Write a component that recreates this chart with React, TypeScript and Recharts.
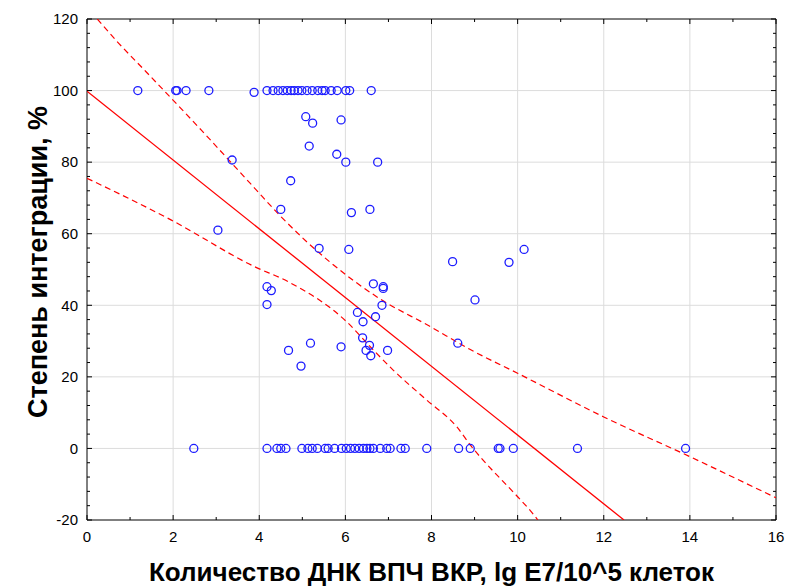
import React from 'react';
import {
  ComposedChart,
  Scatter,
  Line,
  XAxis,
  YAxis,
  CartesianGrid,
  ReferenceArea,
} from 'recharts';

// x для точек со степенью интеграции 100%
const row100X = [
  1.18, 2.06, 2.09, 2.3, 2.83, 4.18, 4.32, 4.44, 4.55, 4.65, 4.74, 4.81, 4.9,
  4.99, 5.11, 5.23, 5.36, 5.46, 5.53, 5.67, 5.81, 6.01, 6.1, 6.6,
];

// x для точек с нулевой интеграцией
const row0X = [
  2.48, 4.18, 4.41, 4.5, 4.62, 4.99, 5.13, 5.23, 5.35, 5.53, 5.6, 5.75, 5.91,
  6.02, 6.12, 6.22, 6.32, 6.42, 6.5, 6.57, 6.65, 6.81, 6.96, 7.04, 7.29, 7.39,
  7.89, 8.63, 8.9, 9.55, 9.59, 9.9, 11.39, 13.9,
];

// остальные точки
const midX = [
  3.88, 5.08, 5.24, 5.9, 5.16, 5.8, 6.01, 6.75, 3.37, 4.73, 4.5, 6.14, 6.57,
  3.04, 5.39, 6.08, 8.49, 9.8, 10.15, 9.01, 6.65, 6.88, 6.88, 6.85, 4.18, 4.28,
  4.18, 6.28, 6.7, 6.41, 6.4, 5.19, 5.9, 6.56, 8.61, 4.68, 6.48, 6.59, 6.98,
  4.97,
];
const midY = [
  99.5, 92.7, 90.9, 91.8, 84.5, 82.2, 80.0, 80.0, 80.6, 74.8, 66.8, 65.9, 66.8,
  61.0, 55.9, 55.6, 52.2, 52.0, 55.6, 41.5, 46.0, 45.2, 44.7, 40.0, 45.2, 44.1,
  40.2, 38.0, 36.8, 35.4, 30.9, 29.4, 28.4, 28.8, 29.4, 27.4, 27.4, 25.9, 27.4,
  23.0,
];

// линия регрессии и 95% доверительные границы
const fitX = [0, 12.47];
const fitY = [99.8, -20];

const upperX = [0.24, 0.7, 1.36, 2.65, 3.88, 4.47, 6.79, 7.95, 8.89, 10.0, 12.0, 14.0, 16.0];
const upperY = [120, 113.7, 105.4, 89.0, 72.9, 65.2, 41.9, 34.2, 27.7, 21.0, 8.8, -2.3, -13.8];

const lowerX = [0, 1.96, 3.89, 4.67, 6.03, 6.65, 7.11, 7.89, 8.59, 8.9, 10.0, 10.29, 10.47];
const lowerY = [75.5, 63.8, 50.8, 46.6, 35.4, 27.5, 21.9, 13.5, 6.0, 1.0, -13.5, -17.3, -20];

const xMajor = [0, 2, 4, 6, 8, 10, 12, 14, 16];
const yMajor = [-20, 0, 20, 40, 60, 80, 100, 120];
const xTicks = Array.from({ length: 17 }, (_, i) => i);
const yTicks = Array.from({ length: 36 }, (_, i) => -20 + i * 4);

const points = [
  ...row100X.map((x) => ({ x, y: 100 })),
  ...row0X.map((x) => ({ x, y: 0 })),
  ...midX.map((x, i) => ({ x, y: midY[i] })),
];
const toPairs = (xs: number[], ys: number[]) => xs.map((x, i) => ({ x, y: ys[i] }));
const fitData = toPairs(fitX, fitY);
const upperData = toPairs(upperX, upperY);
const lowerData = toPairs(lowerX, lowerY);

const W = 787;
const H = 586;
const PLOT = { left: 87, top: 19, right: 776, bottom: 520 };
const FONT = '"Liberation Sans", Arial, sans-serif';
const RED = '#ff0000';
const BLUE = '#1c1cff';

const XTick = (props: any) => {
  const { x, y, payload } = props;
  const major = xMajor.includes(payload.value);
  const len = major ? 5 : 3;
  return (
    <g>
      <line x1={x} x2={x} y1={PLOT.bottom} y2={PLOT.bottom - len} stroke="#000" />
      <line x1={x} x2={x} y1={PLOT.top} y2={PLOT.top + len} stroke="#000" />
      {major && (
        <text x={x} y={y} dy="0.71em" textAnchor="middle" fontSize={15} fontFamily={FONT} fill="#000">
          {payload.value}
        </text>
      )}
    </g>
  );
};

const YTick = (props: any) => {
  const { x, y, payload } = props;
  const major = yMajor.includes(payload.value);
  const len = major ? 5 : 3;
  return (
    <g>
      <line x1={PLOT.left} x2={PLOT.left + len} y1={y} y2={y} stroke="#000" />
      <line x1={PLOT.right} x2={PLOT.right - len} y1={y} y2={y} stroke="#000" />
      {major && (
        <text x={x} y={y} dy="0.35em" textAnchor="end" fontSize={15} fontFamily={FONT} fill="#000">
          {payload.value}
        </text>
      )}
    </g>
  );
};

const Ring = (props: any) => (
  <circle cx={props.cx} cy={props.cy} r={4} fill="none" stroke={BLUE} strokeWidth={1.3} />
);

export default function App() {
  return (
    <div style={{ width: W, height: H, background: '#fff' }}>
      <style>{'body{margin:0}'}</style>
      <ComposedChart width={W} height={H} margin={{ top: 19, right: 11, left: 0, bottom: 0 }}>
        <CartesianGrid
          stroke="#dcdcdc"
          horizontalValues={[0, 20, 40, 60, 80, 100]}
          verticalValues={[2, 4, 6, 8, 10, 12, 14]}
        />
        <XAxis
          dataKey="x"
          type="number"
          domain={[0, 16]}
          ticks={xTicks}
          allowDataOverflow
          height={66}
          tickSize={0}
          tickMargin={11}
          tickLine={false}
          axisLine={false}
          tick={XTick}
          interval={0}
          label={{
            content: () => (
              <text
                x={PLOT.left + (PLOT.right - PLOT.left) / 2}
                y={H - 5}
                textAnchor="middle"
                fontSize={26}
                fontWeight="bold"
                fontFamily={FONT}
                fill="#000"
              >
                Количество ДНК ВПЧ ВКР, lg E7/10^5 клеток
              </text>
            ),
          }}
        />
        <YAxis
          dataKey="y"
          type="number"
          domain={[-20, 120]}
          ticks={yTicks}
          allowDataOverflow
          width={87}
          tickSize={0}
          tickMargin={9}
          tickLine={false}
          axisLine={false}
          tick={YTick}
          interval={0}
          label={{
            content: () => (
              <text
                x={38}
                y={262}
                transform="rotate(-90, 38, 262)"
                textAnchor="middle"
                dy="0.35em"
                fontSize={27}
                fontWeight="bold"
                fontFamily={FONT}
                fill="#000"
              >
                Степень интеграции, %
              </text>
            ),
          }}
        />
        <Line data={upperData} dataKey="y" type="monotone" stroke={RED} strokeWidth={1.2} strokeDasharray="6 4" dot={false} isAnimationActive={false} />
        <Line data={lowerData} dataKey="y" type="monotone" stroke={RED} strokeWidth={1.2} strokeDasharray="6 4" dot={false} isAnimationActive={false} />
        <Line data={fitData} dataKey="y" type="linear" stroke={RED} strokeWidth={1.3} dot={false} isAnimationActive={false} />
        <Scatter data={points} dataKey="y" shape={Ring} isAnimationActive={false} />
        <ReferenceArea x1={0} x2={16} y1={-20} y2={120} fill="none" stroke="#000" strokeWidth={1} ifOverflow="visible" />
      </ComposedChart>
    </div>
  );
}
